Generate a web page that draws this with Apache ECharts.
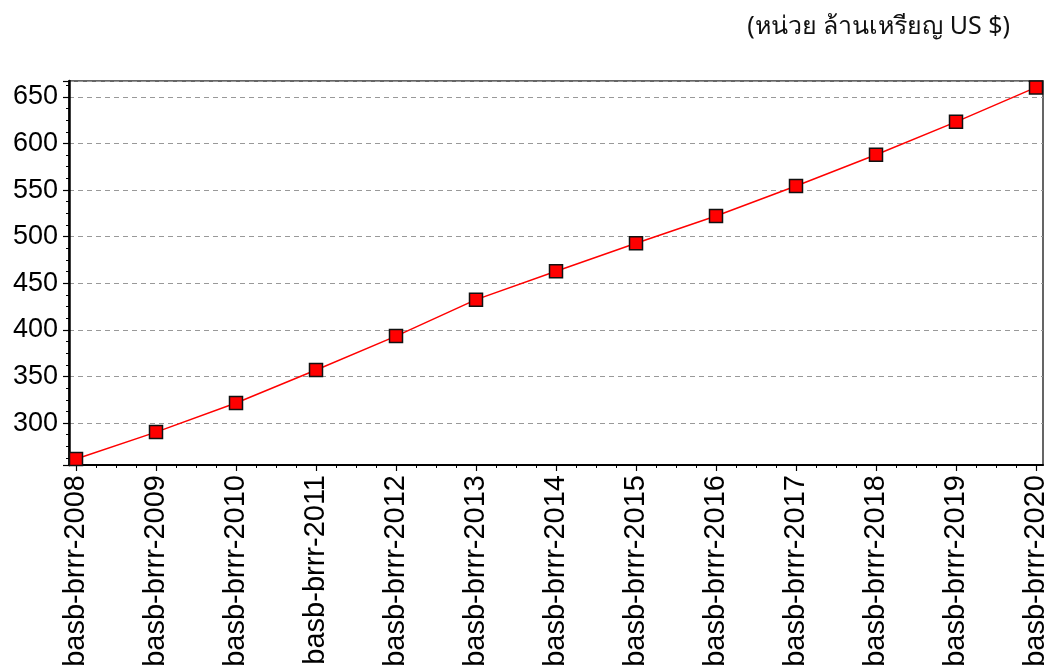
<!DOCTYPE html>
<html>
<head>
<meta charset="utf-8">
<script src="https://cdn.jsdelivr.net/npm/echarts@6/dist/echarts.min.js"></script>
<style>
html,body{margin:0;padding:0;background:#fff;}
#c{width:1051px;height:670px;}
</style>
</head>
<body>
<div id="c"></div>
<script>
const titleText = '(หน่วย ล้านเหรียญ US $)';
const categories = ['basb-brrr-2008','basb-brrr-2009','basb-brrr-2010','basb-brrr-2011','basb-brrr-2012','basb-brrr-2013','basb-brrr-2014','basb-brrr-2015','basb-brrr-2016','basb-brrr-2017','basb-brrr-2018','basb-brrr-2019','basb-brrr-2020'];
const values = [261.4, 290.3, 321.5, 356.9, 393.3, 432.4, 462.9, 492.9, 522.2, 554.3, 587.8, 623.2, 660.1];
const yMin = 255;
const yMax = 667;

const chart = echarts.init(document.getElementById('c'), null, {renderer:'canvas'});
const font = 'Liberation Sans, Arial, sans-serif';
chart.setOption({
  animation: false,
  backgroundColor: '#ffffff',
  title: {
    text: titleText,
    right: 36, top: 9,
    textStyle: {fontFamily: 'Noto Sans, DejaVu Sans, sans-serif', fontSize: 25, fontWeight: 'normal', color: '#111'}
  },
  grid: [
    {left: 69, top: 81, width: 974, height: 384, show: true, borderColor: '#333', borderWidth: 1.5, backgroundColor: 'transparent'},
    {left: 76, top: 81, width: 960, height: 384}
  ],
  xAxis: [
    {gridIndex: 0, type: 'value', min: 0, max: 1, position: 'bottom',
     axisLine: {show: true, lineStyle: {color: '#000', width: 2}},
     axisTick: {show: false}, axisLabel: {show: false}, splitLine: {show: false}},
    {gridIndex: 1, type: 'value', min: 0, max: 12, interval: 1, position: 'bottom',
     axisLine: {show: false},
     axisTick: {show: true, length: 6, lineStyle: {color: '#000', width: 1.2}},
     minorTick: {show: true, splitNumber: 4, length: 3, lineStyle: {color: '#000', width: 1}},
     splitLine: {show: false},
     axisLabel: {rotate: 90, margin: 10, fontFamily: font, fontSize: 29, color: '#000',
       formatter: function(v){ return categories[Math.round(v)] || ''; }}}
  ],
  yAxis: [
    {gridIndex: 0, type: 'value', min: yMin, max: yMax, splitNumber: 8,
     axisLine: {show: true, lineStyle: {color: '#000', width: 2.5}},
     axisTick: {show: true, length: 6, lineStyle: {color: '#000', width: 1.2}},
     minorTick: {show: true, splitNumber: 4, length: 3, lineStyle: {color: '#000', width: 1}},
     splitLine: {show: true, lineStyle: {color: '#999', type: [5, 4], width: 1.2}},
     axisLabel: {margin: 11, fontFamily: font, fontSize: 27, color: '#000', showMinLabel: false, showMaxLabel: false}},
    {gridIndex: 1, type: 'value', min: yMin, max: yMax, show: false}
  ],
  series: [{
    type: 'line',
    xAxisIndex: 1, yAxisIndex: 1,
    data: categories.map(function(c, i){ return [i, values[i]]; }),
    symbol: 'rect', symbolSize: 13,
    lineStyle: {color: '#ff0000', width: 1.5},
    itemStyle: {color: '#ff0000', borderColor: '#111', borderWidth: 1.5},
    clip: false
  }]
});
</script>
</body>
</html>
